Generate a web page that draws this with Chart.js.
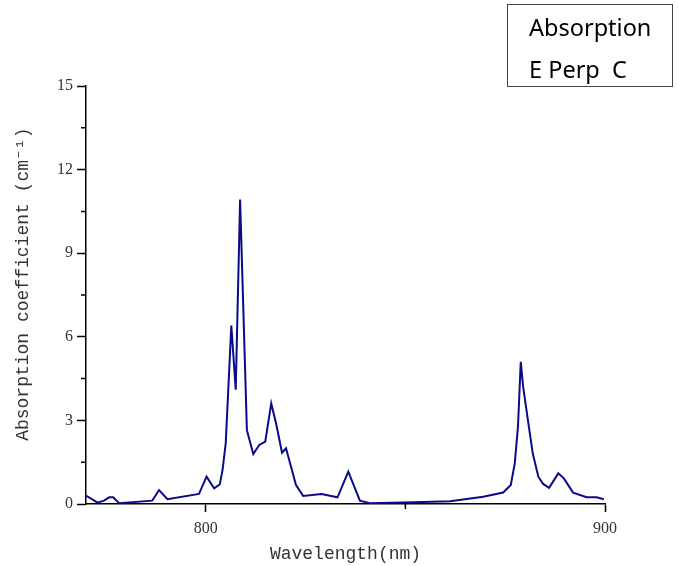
<!DOCTYPE html>
<html>
<head>
<meta charset="utf-8">
<script src="https://cdn.jsdelivr.net/npm/chart.js@4"></script>
<style>
  html, body { margin: 0; padding: 0; background: #fff; }
  #wrap { width: 678px; height: 566px; }
</style>
</head>
<body>
<div id="wrap"><canvas id="absChart" width="678" height="566"></canvas></div>
<script>
// values
const wavelength = [770, 772.9, 774.5, 775.8, 776.8, 778.3, 786.6, 788.3, 790.4, 798.3,
  800.2, 802.1, 803.5, 804.2, 805.0, 806.4, 807.5, 808.6, 810.3, 811.9,
  813.4, 814.9, 816.4, 817.6, 819.1, 820.1, 822.6, 824.4, 829, 833,
  835.7, 838.6, 841.1, 852, 861.2, 869.5, 874.5, 876.4, 877.4, 878.2,
  878.9, 879.5, 880.8, 881.9, 883.3, 884.5, 886, 888.3, 889.7, 892,
  895.4, 897.9, 899.7];
const absorption = [0.3, 0.05, 0.12, 0.24, 0.24, 0.03, 0.12, 0.5, 0.17, 0.36,
  0.98, 0.56, 0.7, 1.22, 2.18, 6.4, 4.1, 10.93, 2.65, 1.79,
  2.12, 2.24, 3.61, 2.9, 1.84, 2.0, 0.68, 0.29, 0.36, 0.24,
  1.16, 0.12, 0.03, 0.06, 0.1, 0.26, 0.41, 0.68, 1.46, 2.77,
  5.1, 4.2, 2.9, 1.82, 0.98, 0.72, 0.58, 1.1, 0.92, 0.41,
  0.24, 0.24, 0.17];
const xMajorTicks = [800, 900];
const xMinorTicks = [850];
const yMajorTicks = [0, 3, 6, 9, 12, 15];
const yMinorTicks = [1.5, 4.5, 7.5, 10.5, 13.5];
const legendLines = ['Absorption', 'E Perp  C'];

const points = wavelength.map((w, i) => ({ x: w, y: absorption[i] }));

// short minor ticks + legend box
const extras = {
  id: 'extras',
  afterDraw(chart) {
    const ctx = chart.ctx;
    const xs = chart.scales.x, ys = chart.scales.y;
    ctx.save();
    ctx.strokeStyle = '#000';
    ctx.lineWidth = 1.5;
    ctx.beginPath();
    xMinorTicks.forEach(v => {
      const px = xs.getPixelForValue(v);
      ctx.moveTo(px, xs.top); ctx.lineTo(px, xs.top + 5);
    });
    yMinorTicks.forEach(v => {
      const py = ys.getPixelForValue(v);
      ctx.moveTo(ys.right, py); ctx.lineTo(ys.right - 5, py);
    });
    ctx.stroke();

    // legend box
    ctx.strokeStyle = '#444';
    ctx.lineWidth = 1;
    ctx.strokeRect(507.5, 4.5, 165, 82);
    ctx.fillStyle = '#000';
    ctx.font = '23.5px "Noto Sans", sans-serif';
    ctx.textBaseline = 'alphabetic';
    ctx.fillText(legendLines[0], 529, 36);
    ctx.fillText(legendLines[1], 529, 78);
    ctx.restore();
  }
};

new Chart(document.getElementById('absChart'), {
  type: 'line',
  data: {
    datasets: [{
      label: 'Absorption E Perp C',
      data: points,
      borderColor: '#0b0b8a',
      borderWidth: 2,
      pointRadius: 0,
      tension: 0,
      fill: false
    }]
  },
  options: {
    responsive: false,
    animation: false,
    layout: { padding: { top: 86, right: 73, left: 0, bottom: 0 } },
    plugins: { legend: { display: false }, tooltip: { enabled: false } },
    scales: {
      x: {
        type: 'linear',
        min: 770,
        max: 900,
        afterBuildTicks: s => { s.ticks = xMajorTicks.map(v => ({ value: v })); },
        afterFit: s => { s.height = 62; },
        grid: { drawOnChartArea: false, drawTicks: true, tickLength: 8, tickWidth: 1.5, tickColor: '#000' },
        border: { color: '#000', width: 1.5 },
        ticks: { color: '#333', padding: 7, maxRotation: 0, font: { family: '"Liberation Serif", serif', size: 16 } },
        title: {
          display: true,
          text: 'Wavelength(nm)',
          color: '#333',
          font: { family: '"Liberation Mono", monospace', size: 18 },
          padding: { top: 0, bottom: 1 }
        }
      },
      y: {
        min: 0,
        max: 15,
        afterBuildTicks: s => { s.ticks = yMajorTicks.map(v => ({ value: v })); },
        afterFit: s => { s.width = 86; },
        grid: { drawOnChartArea: false, drawTicks: true, tickLength: 9, tickWidth: 1.5, tickColor: '#000' },
        border: { color: '#000', width: 1.5 },
        ticks: { color: '#333', padding: 4, font: { family: '"Liberation Serif", serif', size: 16 } },
        title: {
          display: true,
          // leading spaces nudge the rotated title up a little, like the original
          text: '  Absorption coefficient (cm\u207B\u00B9)',
          color: '#333',
          font: { family: '"Liberation Mono", monospace', size: 18 },
          padding: { top: 12, bottom: 0 }
        }
      }
    }
  },
  plugins: [extras]
});
</script>
</body>
</html>
